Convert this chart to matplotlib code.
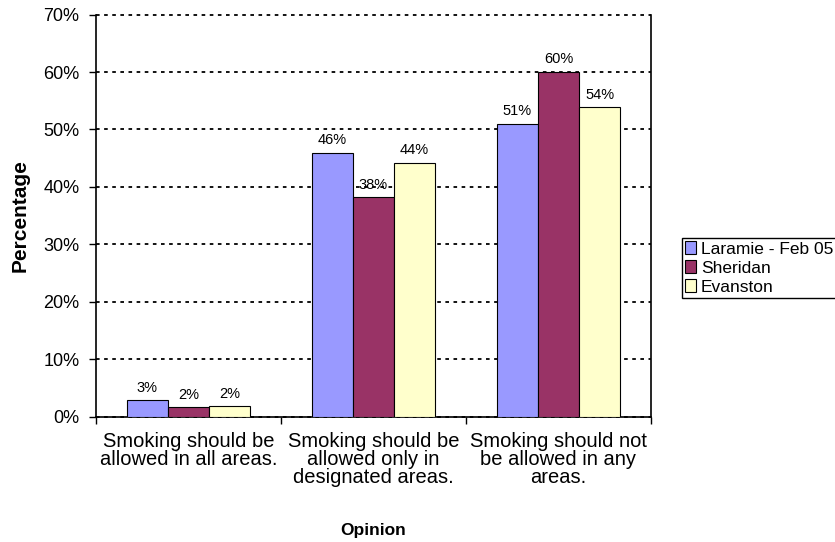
import matplotlib
matplotlib.use("Agg")
import matplotlib.pyplot as plt
import numpy as np
from matplotlib.ticker import FixedLocator

plt.rcParams['font.family'] = ['Liberation Sans', 'DejaVu Sans']

categories = ["Smoking should be\nallowed in all areas.",
              "Smoking should be\nallowed only in\ndesignated areas.",
              "Smoking should not\nbe allowed in any\nareas."]
series_names = ["Laramie - Feb 05", "Sheridan", "Evanston"]
laramie = [2.8, 45.9, 51.0]
sheridan = [1.6, 38.2, 60.1]
evanston = [1.8, 44.2, 53.9]
colors = ["#9999FF", "#993366", "#FFFFCC"]
yticks = [0, 10, 20, 30, 40, 50, 60, 70]

W, H = 835, 542
fig = plt.figure(figsize=(W/100, H/100), dpi=100)
ax_left, ax_right, ax_top, ax_bottom = 96, 651, 14.7, 416.5
ax = fig.add_axes([ax_left/W, 1-ax_bottom/H, (ax_right-ax_left)/W, (ax_bottom-ax_top)/H])

x = np.arange(len(categories))
bw = 1/4.5
for i, (vals, name, c) in enumerate(zip([laramie, sheridan, evanston], series_names, colors)):
    pos = x + (i-1)*bw
    ax.bar(pos, vals, width=bw, color=c, edgecolor="black", linewidth=0.8, label=name, zorder=3)
    for p, v in zip(pos, vals):
        ax.annotate(f"{v:.0f}%", (p, v), xytext=(0, 4), textcoords="offset points",
                    ha="center", va="bottom", fontsize=10.5, zorder=4)

ax.set_xlim(-0.5, 2.5)
ax.set_ylim(0, 70)
ax.set_yticks(yticks)
ax.set_yticklabels([f"{t}%" for t in yticks], fontsize=13)
ax.yaxis.grid(True, color="black", linestyle=(0, (2, 2.5)), linewidth=1.3, zorder=0)
for gl in ax.get_ygridlines():
    gl.set_clip_on(False)
ax.set_xticks(x)
ax.set_xticklabels(categories, fontsize=14.5, linespacing=0.95)
ax.xaxis.set_minor_locator(FixedLocator([-0.5, 0.5, 1.5, 2.5]))
ax.tick_params(axis="x", which="major", length=0, pad=11)
ax.tick_params(axis="x", which="minor", length=5, direction="out", width=1)
ax.tick_params(axis="y", length=5, direction="out", width=1, pad=7)

ax.spines["top"].set_visible(False)
for s in ["left", "bottom", "right"]:
    ax.spines[s].set_linewidth(1.2)
ax.set_axisbelow(True)

ax.set_xlabel("Opinion", fontsize=12.5, fontweight="bold", va="center")
ax.xaxis.set_label_coords(0.5, ((H - 530) - (H - ax_bottom)) / (ax_bottom - ax_top))
ax.set_ylabel("Percentage", fontsize=15, fontweight="bold", labelpad=10)

leg = fig.legend(loc="lower left", bbox_to_anchor=(682/W, 1-298/H), fontsize=12.5,
                 frameon=True, fancybox=False, edgecolor="black", framealpha=1,
                 handlelength=0.6, handleheight=0.7, handletextpad=0.3,
                 labelspacing=0.22, borderpad=0.2, borderaxespad=0)
leg.get_frame().set_linewidth(1.0)

fig.savefig("out.png", dpi=100)
